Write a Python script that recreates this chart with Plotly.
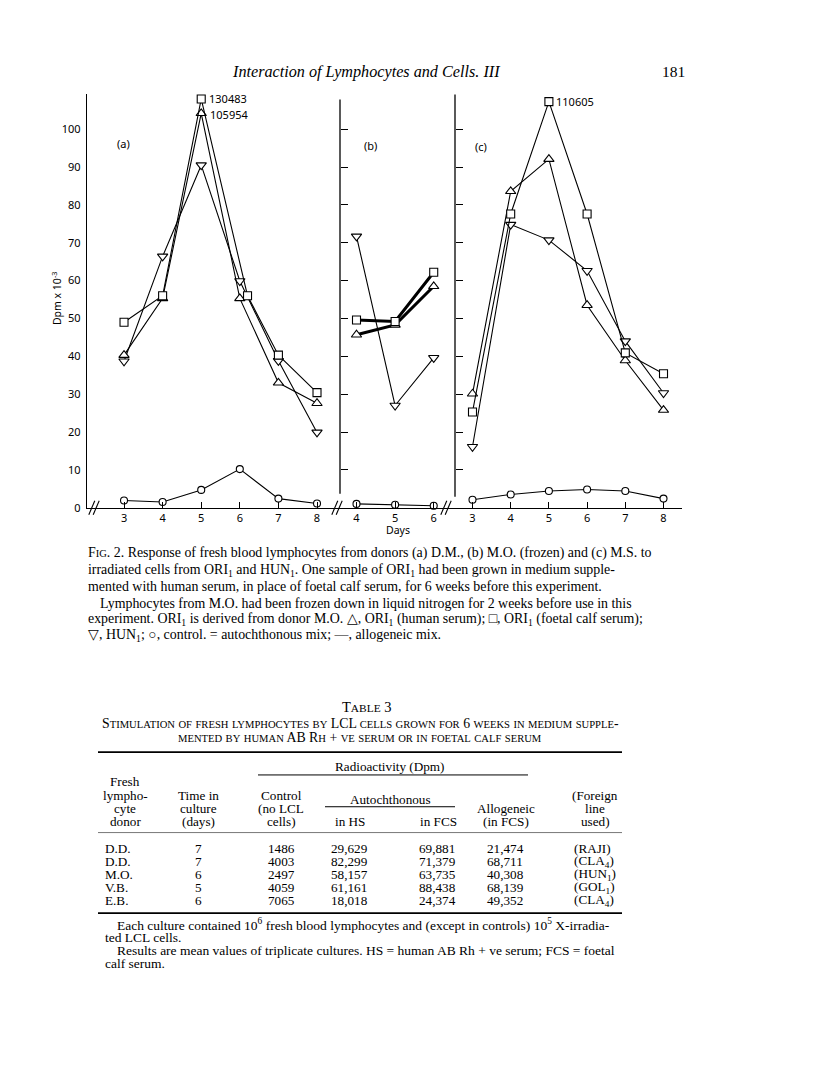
import plotly.graph_objects as go

PAGE_W, PAGE_H = 816, 1085
OFF = 8                      # default body margin of the html page
W, H = PAGE_W - 2 * OFF, PAGE_H - 2 * OFF

# ---------------- data ----------------
days_a = [3, 4, 5, 6, 7, 8]
days_a_fcs = [3, 4, 5, 6.2, 7, 8]
a_hs = [40.3, 55.3, 104.2, 55.3, 33.0, 27.6]       # triangle: ORI1 (human serum)
a_fcs = [49.0, 56.0, 108.0, 56.0, 40.3, 30.4]      # square: ORI1 (foetal calf serum)
a_hun = [38.7, 66.4, 90.5, 59.9, 38.8, 19.9]       # inverted triangle: HUN1
a_ctrl = [1.9, 1.5, 4.7, 10.2, 2.4, 1.1]           # circle: control

days_b = [4, 5, 6]
b_hs = [45.7, 48.3, 58.5]
b_fcs = [49.6, 49.2, 62.2]
b_hun = [71.7, 27.0, 39.6]
b_ctrl = [1.0, 0.8, 0.5]

days_c = [3, 4, 5, 6, 7, 8]
c_hs = [30.1, 83.6, 92.1, 53.5, 38.9, 25.8]
c_fcs = [25.3, 77.6, 107.3, 77.6, 40.9, 35.4]
c_hun = [16.1, 74.8, 70.7, 62.6, 44.0, 30.3]
c_ctrl = [2.1, 3.5, 4.4, 4.8, 4.4, 2.4]

offscale_labels = ["130483", "105954", "110605"]
y_tick_vals = [0, 10, 20, 30, 40, 50, 60, 70, 80, 90, 100]

table_donor = ["D.D.", "D.D.", "M.O.", "V.B.", "E.B."]
table_days = ["7", "7", "6", "5", "6"]
table_control = ["1486", "4003", "2497", "4059", "7065"]
table_hs = ["29,629", "82,299", "58,157", "61,161", "18,018"]
table_fcs = ["69,881", "71,379", "63,735", "88,438", "24,374"]
table_allo = ["21,474", "68,711", "40,308", "68,139", "49,352"]
table_line = ["(RAJI)", "(CLA<sub>4</sub>)", "(HUN<sub>1</sub>)", "(GOL<sub>1</sub>)", "(CLA<sub>4</sub>)"]

# ---------------- helpers ----------------
def px(x):
    return (x - OFF) / W

def py(y):
    return 1 - (y - OFF) / H

SANS = "Noto Sans"
SERIF = "Liberation Serif"

fig = go.Figure()

def series(xs, ys, xa, ya, symbol, lw=1.1, size=8):
    fig.add_trace(go.Scatter(
        x=xs, y=ys, xaxis=xa, yaxis=ya, mode="lines+markers",
        line=dict(color="black", width=lw),
        marker=dict(symbol=symbol, size=size, color="white",
                    line=dict(color="black", width=1.1)),
        showlegend=False, cliponaxis=False, hoverinfo="skip"))

# panel a
series(days_a, a_ctrl, "x", "y", "circle", size=7)
series(days_a, a_hun, "x", "y", "triangle-down", size=9)
series(days_a, a_hs, "x", "y", "triangle-up", size=9)
series(days_a_fcs, a_fcs, "x", "y", "square", size=8)
# panel b
series(days_b, b_ctrl, "x2", "y2", "circle", size=7)
series(days_b, b_hun, "x2", "y2", "triangle-down", size=9)
series(days_b, b_hs, "x2", "y2", "triangle-up", lw=3, size=9)
series(days_b, b_fcs, "x2", "y2", "square", lw=3, size=8)
# panel c
series(days_c, c_ctrl, "x3", "y3", "circle", size=7)
series(days_c, c_hun, "x3", "y3", "triangle-down", size=9)
series(days_c, c_hs, "x3", "y3", "triangle-up", size=9)
series(days_c, c_fcs, "x3", "y3", "square", size=8)

tickfont = dict(family=SANS, size=11, color="black")
YR = [0, 109.19]
YD = [py(511), py(95)]

xcommon = dict(showline=True, linecolor="black", linewidth=1.3, ticks="inside",
               ticklen=6, tickcolor="black", tickwidth=1, showgrid=False,
               zeroline=False, tickfont=tickfont, fixedrange=True)
ycommon = dict(range=YR, domain=YD, showgrid=False, zeroline=False, fixedrange=True)

fig.update_layout(
    width=W, height=H, margin=dict(l=0, r=0, t=0, b=0),
    paper_bgcolor="white", plot_bgcolor="rgba(0,0,0,0)",
    xaxis=dict(domain=[px(87), px(335)], range=[2.041, 8.466], anchor="y",
               tickvals=days_a, **xcommon),
    yaxis=dict(anchor="x", showline=True, linecolor="black", linewidth=1.3,
               ticks="", tickvals=y_tick_vals, tickfont=tickfont,
               ticklabelstandoff=3, **ycommon),
    xaxis2=dict(domain=[px(335), px(448)], range=[3.443, 6.37], anchor="y2",
                tickvals=days_b, **xcommon),
    yaxis2=dict(anchor="free", position=px(340), showline=False, ticks="inside",
                ticklen=7, tickcolor="black", tickvals=y_tick_vals[1:],
                showticklabels=False, **ycommon),
    xaxis3=dict(domain=[px(448), px(682)], range=[2.359, 8.484], anchor="y3",
                tickvals=days_c, **xcommon),
    yaxis3=dict(anchor="free", position=px(455), showline=False, ticks="inside",
                ticklen=7, tickcolor="black", tickvals=y_tick_vals[1:],
                showticklabels=False, **ycommon),
)

shapes = []
def pline(x0, y0, x1, y1, w=1.0, color="black"):
    shapes.append(dict(type="line", xref="paper", yref="paper",
                       x0=px(x0), y0=py(y0), x1=px(x1), y1=py(y1),
                       line=dict(color=color, width=w)))

# y-axis lines of panels b and c (not reaching the baseline)
pline(340, 100, 340, 497, 1.3)
pline(455, 95, 455, 500, 1.3)
# axis breaks  //
for cx in (94, 337, 446):
    for d in (-2.2, 2.2):
        pline(cx + d - 3, 518, cx + d + 3, 504, 1.1)

anns = []
def text(x, y, s, size=13, family=SERIF, anchor="left", color="black", angle=0):
    anns.append(dict(xref="paper", yref="paper", x=px(x), y=py(y), text=s,
                     showarrow=False, xanchor=anchor, yanchor="middle",
                     textangle=angle,
                     font=dict(family=family, size=size, color=color)))

# off-scale value labels next to the peak markers
anns.append(dict(xref="x", yref="y", x=5, y=a_fcs[2], text=offscale_labels[0],
                 showarrow=False, xanchor="left", yanchor="middle", xshift=6,
                 font=dict(family=SANS, size=11, color="black")))
anns.append(dict(xref="x", yref="y", x=5, y=a_hs[2], text=offscale_labels[1],
                 showarrow=False, xanchor="left", yanchor="middle", xshift=7, yshift=-1,
                 font=dict(family=SANS, size=11, color="black")))
anns.append(dict(xref="x3", yref="y3", x=5, y=c_fcs[2], text=offscale_labels[2],
                 showarrow=False, xanchor="left", yanchor="middle", xshift=5,
                 font=dict(family=SANS, size=11, color="black")))

# panel letters, axis titles
text(124, 144, "(a)", 11, SANS, "center")
text(370, 146, "(b)", 11, SANS, "center")
text(481, 147, "(c)", 11, SANS, "center")
text(56, 300, "Dpm x 10<sup>-3</sup>", 10.5, SANS, "center", angle=-90)
text(398, 533, "Days", 10.5, SANS, "center")

# running head
text(366, 72, "<i>Interaction of Lymphocytes and Cells. III</i>", 16.2, SERIF, "center")
text(673, 72, "181", 15.5, SERIF, "center")

def sc(s, small=10.0):
    out, run = [], ""
    for ch in s:
        if ch.islower():
            run += ch.upper()
        else:
            if run:
                out.append(f"<span style='font-size:{small}px'>{run}</span>")
                run = ""
            out.append(ch)
    if run:
        out.append(f"<span style='font-size:{small}px'>{run}</span>")
    return "".join(out)

# figure caption
cap = [
    (86, 557, sc("Fig", small=10.5) + ". 2. Response of fresh blood lymphocytes from donors (a) D.M., (b) M.O. (frozen) and (c) M.S. to"),
    (86, 574, "irradiated cells from ORI<sub>1</sub> and HUN<sub>1</sub>. One sample of ORI<sub>1</sub> had been grown in medium supple-"),
    (86, 590, "mented with human serum, in place of foetal calf serum, for 6 weeks before this experiment."),
    (98, 607, "Lymphocytes from M.O. had been frozen down in liquid nitrogen for 2 weeks before use in this"),
    (86, 624, "experiment. ORI<sub>1</sub> is derived from donor M.O. △, ORI<sub>1</sub> (human serum); □, ORI<sub>1</sub> (foetal calf serum);"),
    (86, 640, "▽, HUN<sub>1</sub>; ○, control. = autochthonous mix; —, allogeneic mix."),
]
for x, y, s in cap:
    text(x, y, s, 13.9, SERIF)

# table title
text(366, 712, sc("Table 3", small=11.4), 14.5, SERIF, "center")
text(360, 728, sc("Stimulation of fresh lymphocytes by LCL cells grown for 6 weeks in medium supple-", small=10.6), 13.8, SERIF, "center")
text(360, 742, sc("mented by human AB Rh + ve serum or in foetal calf serum", small=10.6), 13.8, SERIF, "center")

# table rules
pline(98, 757, 622, 757, 1.8)
pline(258, 780, 528, 780, 1.0)
pline(325, 812, 455, 812, 1.0)
pline(98, 838, 622, 838, 0.8, "#555")
pline(98, 919, 622, 919, 1.8)

TF = 13.2
text(390, 772, "Radioactivity (Dpm)", TF, SERIF, "center")
for y, s in zip([787, 801, 814, 827], ["Fresh", "lympho-", "cyte", "donor"]):
    text(125, y, s, TF, SERIF, "center")
for y, s in zip([801, 814, 827], ["Time in", "culture", "(days)"]):
    text(198, y, s, TF, SERIF, "center")
for y, s in zip([801, 814, 827], ["Control", "(no LCL", "cells)"]):
    text(281, y, s, TF, SERIF, "center")
text(390, 805, "Autochthonous", TF, SERIF, "center")
text(350, 827, "in HS", TF, SERIF, "center")
text(439, 827, "in FCS", TF, SERIF, "center")
text(506, 814, "Allogeneic", TF, SERIF, "center")
text(506, 827, "(in FCS)", TF, SERIF, "center")
for y, s in zip([801, 814, 827], ["(Foreign", "line", "used)"]):
    text(595, y, s, TF, SERIF, "center")

row_y = [854, 867, 880, 893, 906]
for i, y in enumerate(row_y):
    text(103, y, table_donor[i], TF, SERIF, "left")
    text(198, y, table_days[i], TF, SERIF, "center")
    text(281, y, table_control[i], TF, SERIF, "center")
    text(349, y, table_hs[i], TF, SERIF, "center")
    text(437, y, table_fcs[i], TF, SERIF, "center")
    text(505, y, table_allo[i], TF, SERIF, "center")
    text(572, y, table_line[i], TF, SERIF, "left")

# footnotes
FN = 13.5
text(115, 931, "Each culture contained 10<sup>6</sup> fresh blood lymphocytes and (except in controls) 10<sup>5</sup> X-irradia-", FN, SERIF)
text(103, 944, "ted LCL cells.", FN, SERIF)
text(115, 957, "Results are mean values of triplicate cultures. HS = human AB Rh + ve serum; FCS = foetal", FN, SERIF)
text(103, 970, "calf serum.", FN, SERIF)

fig.update_layout(shapes=shapes, annotations=anns)
fig.write_html("out.html")
